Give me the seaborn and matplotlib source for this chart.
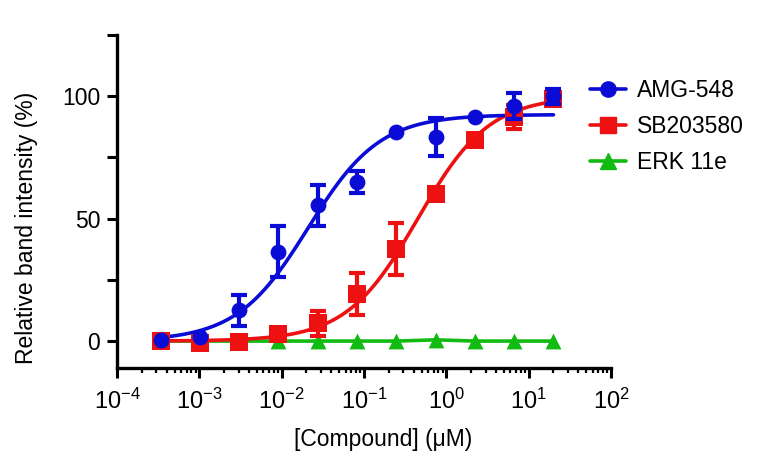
import numpy as np
import pandas as pd
import seaborn as sns
import matplotlib.pyplot as plt
from matplotlib.lines import Line2D
from matplotlib.ticker import LogLocator, FixedLocator, NullFormatter

sns.set_style("ticks")
plt.rcParams['font.family'] = ['Liberation Sans', 'DejaVu Sans']
plt.rcParams['mathtext.fontset'] = 'custom'
plt.rcParams['mathtext.rm'] = 'Liberation Sans'
plt.rcParams['mathtext.it'] = 'Liberation Sans'
plt.rcParams['text.color'] = 'black'

# concentrations (uM), 3-fold dilutions
conc = [0.000339, 0.00102, 0.00305, 0.00914, 0.0274, 0.0823, 0.247, 0.741, 2.22, 6.67, 20.0]

amg = [0.3, 1.8, 12.5, 36.5, 55.5, 65.0, 85.5, 83.3, 91.7, 96.0, 100.0]
amg_err = [0, 0, 6.3, 10.5, 8.4, 4.5, 0, 7.7, 0, 5.5, 3.0]
sb = [0, -0.8, -0.2, 2.7, 7.2, 19.1, 37.6, 60.1, 82.0, 91.5, 99.0]
sb_err = [0, 0, 0, 1.0, 5.0, 8.5, 10.5, 2.5, 2.0, 5.0, 2.0]
erk = [0, 0, 0, 0, 0, 0, 0, 0.5, 0, 0, 0]

# fitted dose-response parameters (bottom, top, EC50, hill)
amg_fit = (0.0, 92.5, 0.021, 1.0)
sb_fit = (0.0, 100.0, 0.45, 1.0)

names = ["AMG-548", "SB203580", "ERK 11e"]
colors = ["#0b0bd6", "#ee1111", "#11bb11"]
markers = ["o", "s", "^"]


def hill(x, p):
    b, t, ec, n = p
    return b + (t - b) / (1 + (ec / x) ** n)


xs = np.logspace(np.log10(conc[0]), np.log10(conc[-1]), 300)
curves = pd.DataFrame({
    "x": np.concatenate([xs, xs]),
    "y": np.concatenate([hill(xs, amg_fit), hill(xs, sb_fit)]),
    "cpd": [names[0]] * len(xs) + [names[1]] * len(xs),
})
pts = pd.DataFrame({
    "x": conc * 3,
    "y": amg + sb + erk,
    "err": amg_err + sb_err + [0] * len(conc),
    "cpd": [names[0]] * len(conc) + [names[1]] * len(conc) + [names[2]] * len(conc),
})

fig = plt.figure(figsize=(7.73, 4.73), dpi=100)
ax = fig.add_axes([117 / 773, 1 - 368 / 473, (611 - 117) / 773, (368 - 35) / 473])

pal = dict(zip(names, colors))
mk = dict(zip(names, markers))

# green line through points, then the fitted curves
sns.lineplot(data=pts[pts.cpd == names[2]], x="x", y="y", color=colors[2],
             linewidth=2.6, legend=False, ax=ax)
for name in [names[1], names[0]]:
    sns.lineplot(data=curves[curves.cpd == name], x="x", y="y", color=pal[name],
                 linewidth=2.6, legend=False, ax=ax)

# points + error bars; SB203580 first so AMG-548 sits on top
for name, z in [(names[2], 3), (names[1], 4), (names[0], 6)]:
    d = pts[pts.cpd == name]
    e = d[d.err > 0]
    if len(e):
        ax.errorbar(e.x, e.y, yerr=e.err, fmt="none", ecolor=pal[name],
                    elinewidth=3.0, capsize=5.5, capthick=3.0, zorder=z)
    sns.scatterplot(data=d, x="x", y="y", color=pal[name], marker=mk[name],
                    s=150 if name == names[1] else 130, linewidth=0,
                    legend=False, ax=ax, zorder=z + 0.5)

ax.set_xscale("log")
ax.set_xlim(1e-4, 1e2)
ax.set_ylim(-11, 125)
ax.xaxis.set_major_locator(LogLocator(base=10, numticks=10))
ax.xaxis.set_minor_locator(LogLocator(base=10, subs=np.arange(2, 10), numticks=10))
ax.xaxis.set_minor_formatter(NullFormatter())
ax.yaxis.set_major_locator(FixedLocator([0, 25, 50, 75, 100, 125]))
ax.set_yticklabels(["0", "", "50", "", "100", ""])

sns.despine(ax=ax)
for s in ["left", "bottom"]:
    ax.spines[s].set_linewidth(2.4)
    ax.spines[s].set_color("black")
ax.tick_params(axis="both", which="major", length=7, width=2.2, labelsize=16.5,
               color="black", labelcolor="black")
ax.tick_params(axis="x", which="major", pad=8, labelsize=17)
ax.tick_params(axis="y", which="major", pad=5)
ax.tick_params(axis="x", which="minor", length=3.5, width=1.6, color="black")

ax.set_xlabel("[Compound] (μM)", fontsize=16.5, color="black")
ax.set_ylabel("Relative band intensity (%)", fontsize=16.5, color="black")
ax.xaxis.set_label_coords(0.538, -0.18)
ax.yaxis.set_label_coords(-0.16, 0.42)

handles = [Line2D([0], [0], color=c, marker=m, markersize=11, linewidth=2.6)
           for c, m in zip(colors, markers)]
fig.legend(handles, names, loc="upper left", bbox_to_anchor=(0.763, 0.832),
           frameon=False, fontsize=16.5, handlelength=1.6, handletextpad=0.45,
           labelspacing=0.55, borderpad=0, borderaxespad=0, labelcolor="black")

fig.savefig("out.png", dpi=100)
